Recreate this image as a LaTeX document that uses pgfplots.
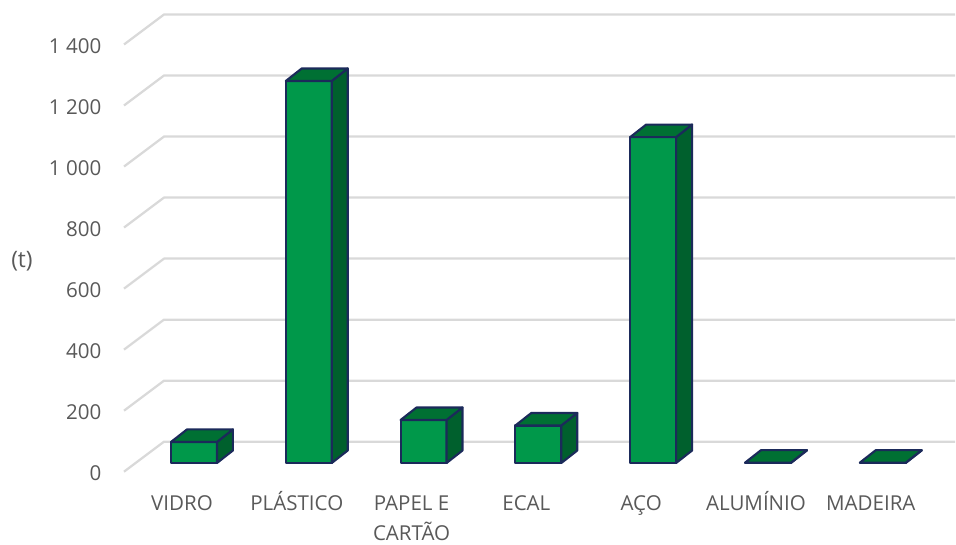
\documentclass[border=0pt]{standalone}
\usepackage{fontspec}
\setmainfont{Open Sans}
\usepackage{pgfplots}
\usepackage{pgfplotstable}
\pgfplotsset{compat=1.18}
\definecolor{barfront}{HTML}{00984A}
\definecolor{bartop}{HTML}{007033}
\definecolor{barside}{HTML}{00602D}
\definecolor{barline}{HTML}{1B2A5A}
\definecolor{gridc}{HTML}{D9D9D9}
\definecolor{textc}{HTML}{595959}
\pgfplotstableread{
i v
0 69
1 1252
2 141
3 123
4 1068
5 1
6 1
}\bars
\newcommand{\wallline}[2]{\addplot[gridc,line width=1.7pt,line join=round] coordinates {(124,#1) (164,#2) (955,#2)};}
\newcommand{\barfaces}[6]{%
  \addplot[draw=barline,fill=barside,line width=1.6pt,line join=round] coordinates {(#2,0) (#2,#5) (#4,#6) (#4,41)} -- cycle;
  \addplot[draw=barline,fill=bartop,line width=1.6pt,line join=round] coordinates {(#1,#5) (#2,#5) (#4,#6) (#3,#6)} -- cycle;
}
\newcommand{\lab}[1]{\vphantom{Í}#1}
\begin{document}
\begin{tikzpicture}
\path[use as bounding box] (0,0) rectangle (717pt,408.75pt);
\begin{axis}[
  at={(93pt,0pt)},anchor=south west,
  scale only axis,width=624pt,height=408.75pt,
  xmin=124,xmax=956,ymin=-240.2,ymax=1545.8,
  axis line style={draw=none},
  major tick length=0pt,
  xtick=\empty,
  ytick={0,200,400,600,800,1000,1200,1400},
  yticklabels={0,200,400,600,800,{1 000},{1 200},{1 400}},
  y tick label style={font=\fontsize{15.4}{18}\selectfont,text=textc,anchor=east,xshift=-13.5pt,yshift=-1pt},
  ylabel={(t)},
  ylabel style={font=\fontsize{17}{20}\selectfont,text=textc,rotate=-90,at={(axis description cs:-0.1226,0.521)},anchor=center},
  clip=false,
]
\wallline{0}{98.3}
\wallline{200}{298.3}
\wallline{400}{498.3}
\wallline{600}{698.3}
\wallline{800}{898.3}
\wallline{1000}{1098.3}
\wallline{1200}{1298.3}
\wallline{1400}{1498.3}
\end{axis}
\begin{axis}[
  at={(0pt,48pt)},anchor=south west,
  scale only axis,width=717pt,height=360.75pt,
  xmin=-1.690,xmax=6.638,ymin=-59,ymax=1517.3,
  axis line style={draw=none},
  major tick length=0pt,
  ytick=\empty,
  xtick={0,1,2,3,4,5,6},
  xticklabels={\lab{VIDRO},\lab{PLÁSTICO},{\lab{PAPEL E}\\CARTÃO},\lab{ECAL},\lab{AÇO},\lab{ALUMÍNIO},\lab{MADEIRA}},
  x tick label style={font=\fontsize{15.4}{22.5}\selectfont,text=textc,align=center,anchor=north,xshift=-9pt,yshift=-4pt},
  clip=false,
]
\addplot[ybar,bar width=34.5pt,bar shift=0pt,draw=barline,fill=barfront,line width=1.6pt,line join=round] table[x=i,y=v] {\bars};
\barfaces{-0.2}{0.2}{-0.061}{0.339}{69}{110}
\barfaces{0.8}{1.2}{0.939}{1.339}{1252}{1293}
\barfaces{1.8}{2.2}{1.939}{2.339}{141}{182}
\barfaces{2.8}{3.2}{2.939}{3.339}{123}{164}
\barfaces{3.8}{4.2}{3.939}{4.339}{1068}{1109}
\barfaces{4.8}{5.2}{4.939}{5.339}{1}{42}
\barfaces{5.8}{6.2}{5.939}{6.339}{1}{42}
\end{axis}
\end{tikzpicture}
\end{document}
